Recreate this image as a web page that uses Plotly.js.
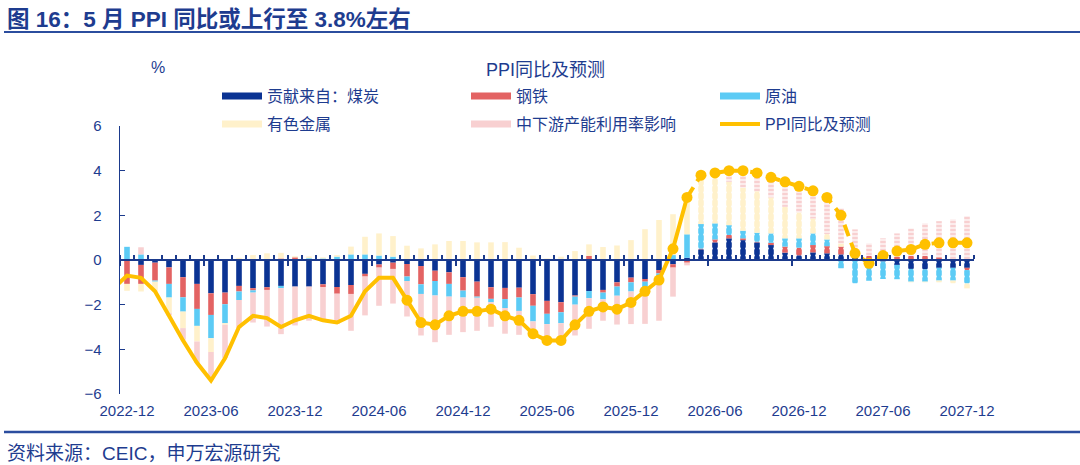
<!DOCTYPE html>
<html>
<head>
<meta charset="utf-8">
<script src="https://cdn.plot.ly/plotly-3.0.1.min.js"></script>
<style>
  html, body { margin: 0; padding: 0; background: #ffffff; }
  #chart { width: 1080px; height: 465px; }
</style>
</head>
<body>
<div id="chart"></div>
<script>
// Monthly categories, 2022-12 .. 2027-12
const months = [
  '2022-12',
  '2023-01','2023-02','2023-03','2023-04','2023-05','2023-06','2023-07','2023-08','2023-09','2023-10','2023-11','2023-12',
  '2024-01','2024-02','2024-03','2024-04','2024-05','2024-06','2024-07','2024-08','2024-09','2024-10','2024-11','2024-12',
  '2025-01','2025-02','2025-03','2025-04','2025-05','2025-06','2025-07','2025-08','2025-09','2025-10','2025-11','2025-12',
  '2026-01','2026-02','2026-03','2026-04','2026-05','2026-06','2026-07','2026-08','2026-09','2026-10','2026-11','2026-12',
  '2027-01','2027-02','2027-03','2027-04','2027-05','2027-06','2027-07','2027-08','2027-09','2027-10','2027-11','2027-12'
];
// The PPI line also carries the month before the first bar (it runs off the left edge)
const ppiMonths = ['2022-11'].concat(months);

const tickLabels = ['2022-12','2023-06','2023-12','2024-06','2024-12','2025-06',
                    '2025-12','2026-06','2026-12','2027-06','2027-12'];

// Contributions to PPI yoy, percentage points
const coal = [
  0.00,
  -0.22,-0.12,-0.33,-0.77,-1.07,-1.49,-1.46,-1.16,-1.26,-1.22,-1.16,-1.19,
  -1.19,-1.09,-1.21,-1.12,-0.62,-0.20,-0.12,-0.18,-0.27,-0.48,-0.55,-0.77,
  -0.97,-1.22,-1.25,-1.24,-1.53,-1.83,-1.89,-1.59,-1.39,-1.34,-1.00,-0.79,
  -0.85,-0.45,-0.19,0.10,0.48,0.79,0.97,0.89,0.79,0.67,0.33,0.21,
  0.34,0.30,0.25,0.18,-0.05,-0.07,-0.22,-0.40,-0.42,-0.35,-0.35,-0.35
];
const steel = [
  -1.07,
  -0.85,-0.80,-0.74,-0.90,-1.12,-0.97,-0.52,-0.25,-0.10,-0.12,0.07,0.12,
  0.03,-0.12,-0.30,-0.40,-0.12,-0.14,-0.28,-0.56,-0.82,-0.46,-0.52,-0.60,
  -0.67,-0.52,-0.50,-0.44,-0.52,-0.58,-0.45,-0.05,0.18,-0.12,-0.19,-0.21,
  -0.12,-0.15,-0.15,-0.12,0.03,0.13,0.15,0.08,0.03,0.10,0.27,0.34,
  0.33,0.32,0.35,0.00,0.18,0.05,0.15,0.18,0.18,0.12,0.05,-0.10
];
const crude = [
  0.59,
  0.25,-0.05,-0.61,-0.64,-0.76,-1.04,-0.85,-0.38,-0.10,0.00,-0.10,0.00,
  0.05,0.07,0.15,0.25,0.25,0.20,0.15,-0.20,-0.43,-0.65,-0.57,-0.31,
  -0.05,-0.15,-0.40,-0.60,-0.70,-0.46,-0.49,-0.36,-0.32,-0.30,-0.41,-0.41,
  -0.25,-0.52,0.22,1.05,1.10,0.72,0.44,0.34,0.40,0.42,0.37,0.42,
  0.52,0.30,-0.37,-1.04,-0.88,-0.78,-0.64,-0.57,-0.55,-0.57,-0.57,-0.60
];
const nonferrous = [
  -0.31,
  -0.34,-0.45,-0.70,-0.74,-0.70,-0.62,-0.07,0.10,0.22,0.30,0.25,0.05,
  0.08,0.05,0.07,0.35,0.79,0.99,0.92,0.64,0.52,0.70,0.85,0.85,
  0.79,0.79,0.80,0.55,0.20,0.07,0.15,0.40,0.52,0.58,0.65,0.89,
  1.38,1.79,1.83,1.75,2.00,2.08,1.94,1.93,1.86,1.61,1.41,1.16,
  0.67,0.24,0.14,0.00,0.00,0.00,0.00,-0.03,-0.03,-0.08,-0.12,-0.22
];
const utilisation = [
  0.00,
  0.32,0.00,-0.10,-0.52,-0.96,-1.24,-1.49,-1.26,-1.34,-1.64,-2.06,-1.74,
  -1.53,-1.54,-1.35,-1.65,-1.74,-1.71,-1.55,-1.59,-1.86,-2.09,-1.71,-1.55,
  -1.48,-1.10,-1.15,-1.07,-0.78,-0.70,-0.74,-1.38,-1.37,-0.96,-1.29,-1.46,
  -1.64,-1.60,-1.30,-0.12,0.15,0.18,0.44,0.76,0.82,0.80,1.01,1.00,
  1.04,1.49,1.57,1.19,0.56,0.92,1.04,1.23,1.46,1.62,1.77,1.96
];
// PPI yoy (%), 2022-11 .. 2027-12; from 2026-05 on it is the forecast
const ppiYoY = [
  -1.3, -0.7,
  -0.8,-1.4,-2.5,-3.6,-4.6,-5.4,-4.4,-3.0,-2.5,-2.6,-3.0,-2.7,
  -2.5,-2.7,-2.8,-2.5,-1.4,-0.8,-0.8,-1.8,-2.8,-2.9,-2.5,-2.3,
  -2.3,-2.2,-2.5,-2.7,-3.3,-3.6,-3.6,-2.9,-2.3,-2.1,-2.2,-1.9,
  -1.4,-0.9,0.5,2.8,3.8,3.9,4.0,4.0,3.9,3.7,3.5,3.3,
  3.1,2.8,2.0,0.3,-0.15,0.2,0.4,0.47,0.7,0.77,0.77,0.77
];

const lastActual = '2026-04';
const firstForecast = '2026-05';
const firstMarker = '2024-08';

// Colours
const TXT = '#1E3C8F';
const AX = '#1B3A8C';
const C_COAL = '#0B3393';
const C_STEEL = '#E36363';
const C_CRUDE = '#5CCBF5';
const C_NONFER = '#FFF1CB';
const C_UTIL = '#F8D0D1';
const C_PPI = '#FFC000';

// Plot-area pixel frame, used to place page furniture in paper coordinates
const L = 120, R = 974, T = 126, B = 394;
const W = R - L, H = B - T;
const px = x => (x - L) / W;
const py = y => (B - y) / H;

const FONT_LATIN = 'Liberation Sans, Arial, Noto Sans CJK SC, sans-serif';

function barTrace(name, values, color, patShape, patSize, patSolidity) {
  return {
    type: 'bar', name: name, x: months, y: values, width: 0.4,
    showlegend: false, hoverinfo: 'skip',
    marker: {
      color: color, line: {width: 0},
      pattern: {
        shape: months.map(m => (m >= firstForecast ? patShape : '')),
        fillmode: 'overlay', fgcolor: '#ffffff', fgopacity: 1,
        size: patSize, solidity: patSolidity
      }
    }
  };
}

function legendEntry(name, color, width, legend) {
  return {
    type: 'scatter', mode: 'lines', name: name, x: [null], y: [null],
    xaxis: 'x2', yaxis: 'y', legend: legend, hoverinfo: 'skip',
    line: {color: color, width: width}
  };
}

const iLast = ppiMonths.indexOf(lastActual);
const iMark = ppiMonths.indexOf(firstMarker);

const traces = [
  barTrace('贡献来自：煤炭', coal, C_COAL, '.', 7, 0.1),
  barTrace('钢铁', steel, C_STEEL, '.', 7, 0.1),
  barTrace('原油', crude, C_CRUDE, '.', 7, 0.1),
  barTrace('有色金属', nonferrous, C_NONFER, '.', 7, 0.1),
  barTrace('中下游产能利用率影响', utilisation, C_UTIL, '-', 4, 0.3),
  {
    type: 'scatter', mode: 'lines', name: 'PPI同比', showlegend: false, hoverinfo: 'skip',
    x: ppiMonths.slice(0, iLast + 1), y: ppiYoY.slice(0, iLast + 1),
    line: {color: C_PPI, width: 4}
  },
  {
    type: 'scatter', mode: 'lines', name: 'PPI预测', showlegend: false, hoverinfo: 'skip',
    x: ppiMonths.slice(iLast), y: ppiYoY.slice(iLast),
    line: {color: C_PPI, width: 4, dash: '12px,7px'}
  },
  {
    type: 'scatter', mode: 'markers', name: 'PPI点', showlegend: false, hoverinfo: 'skip',
    x: ppiMonths.slice(iMark), y: ppiYoY.slice(iMark),
    marker: {color: C_PPI, size: 11, line: {width: 0}}
  },
  legendEntry('贡献来自：煤炭', C_COAL, 7, 'legend'),
  legendEntry('钢铁', C_STEEL, 7, 'legend'),
  legendEntry('原油', C_CRUDE, 7, 'legend'),
  legendEntry('有色金属', C_NONFER, 7, 'legend2'),
  legendEntry('中下游产能利用率影响', C_UTIL, 7, 'legend2'),
  legendEntry('PPI同比及预测', C_PPI, 4, 'legend2')
];

const legendBase = {
  orientation: 'h', xanchor: 'left', yanchor: 'middle',
  entrywidth: 194, entrywidthmode: 'pixels', itemwidth: 40,
  bgcolor: 'rgba(0,0,0,0)', borderwidth: 0, traceorder: 'normal',
  font: {family: FONT_LATIN, size: 16, color: TXT}
};

const layout = {
  width: 1080, height: 465,
  margin: {l: L, r: 1080 - R, t: T, b: 465 - B, pad: 0},
  paper_bgcolor: '#ffffff', plot_bgcolor: '#ffffff',
  font: {family: FONT_LATIN, size: 15, color: TXT},
  barmode: 'relative',
  showlegend: true,
  xaxis: {
    type: 'category', categoryorder: 'array', categoryarray: ppiMonths,
    range: [0.5, 61.5], fixedrange: true,
    tickmode: 'array', tickvals: tickLabels, ticktext: tickLabels,
    ticks: '', showline: false, showgrid: false, zeroline: false,
    tickfont: {family: FONT_LATIN, size: 15, color: TXT},
    ticklabelstandoff: 6
  },
  // horizontal axis drawn through y = 0, with month boundary ticks
  xaxis2: {
    overlaying: 'x', anchor: 'free', position: 0.5, side: 'bottom',
    type: 'linear', range: [0.5, 61.5], fixedrange: true,
    showline: true, linecolor: AX, linewidth: 2,
    tickmode: 'linear', tick0: 0.5, dtick: 6,
    ticks: 'outside', ticklen: 5, tickwidth: 1.5, tickcolor: AX,
    showticklabels: false, showgrid: false, zeroline: false,
    minor: {ticks: 'inside', ticklen: 4, tickwidth: 1.2, tickcolor: AX,
            tickmode: 'linear', tick0: 0.5, dtick: 1, showgrid: false}
  },
  yaxis: {
    range: [-6, 6], tickmode: 'linear', tick0: 0, dtick: 2, fixedrange: true,
    showline: true, linecolor: AX, linewidth: 1.5,
    ticks: 'inside', ticklen: 5, tickwidth: 1.5, tickcolor: AX,
    showgrid: false, zeroline: false,
    tickfont: {family: FONT_LATIN, size: 15, color: TXT},
    ticklabelstandoff: 14
  },
  legend: Object.assign({}, legendBase, {x: px(217), y: py(96)}),
  legend2: Object.assign({}, legendBase, {x: px(217), y: py(124)}),
  annotations: [
    {
      text: '<b>图 16：5 月 PPI 同比或上行至 3.8%左右</b>',
      xref: 'paper', yref: 'paper', x: px(5), y: py(19),
      xanchor: 'left', yanchor: 'middle', showarrow: false,
      font: {family: FONT_LATIN, size: 22.5, color: TXT}
    },
    {
      text: '%', xref: 'paper', yref: 'paper', x: px(158), y: py(68),
      xanchor: 'center', yanchor: 'middle', showarrow: false,
      font: {family: FONT_LATIN, size: 16, color: TXT}
    },
    {
      text: 'PPI同比及预测', xref: 'paper', yref: 'paper', x: px(545), y: py(70),
      xanchor: 'center', yanchor: 'middle', showarrow: false,
      font: {family: FONT_LATIN, size: 18, color: TXT}
    },
    {
      text: '资料来源：CEIC，申万宏源研究', xref: 'paper', yref: 'paper',
      x: px(5), y: py(453), xanchor: 'left', yanchor: 'middle', showarrow: false,
      font: {family: FONT_LATIN, size: 19, color: TXT}
    }
  ],
  shapes: [
    {type: 'line', xref: 'paper', yref: 'paper', x0: px(4), x1: px(1080), y0: py(32), y1: py(32),
     line: {color: '#2B4D9E', width: 2}},
    {type: 'line', xref: 'paper', yref: 'paper', x0: px(4), x1: px(1080), y0: py(432), y1: py(432),
     line: {color: '#2B4D9E', width: 2.5}}
  ]
};

Plotly.newPlot('chart', traces, layout, {displayModeBar: false, staticPlot: true});
</script>
</body>
</html>
